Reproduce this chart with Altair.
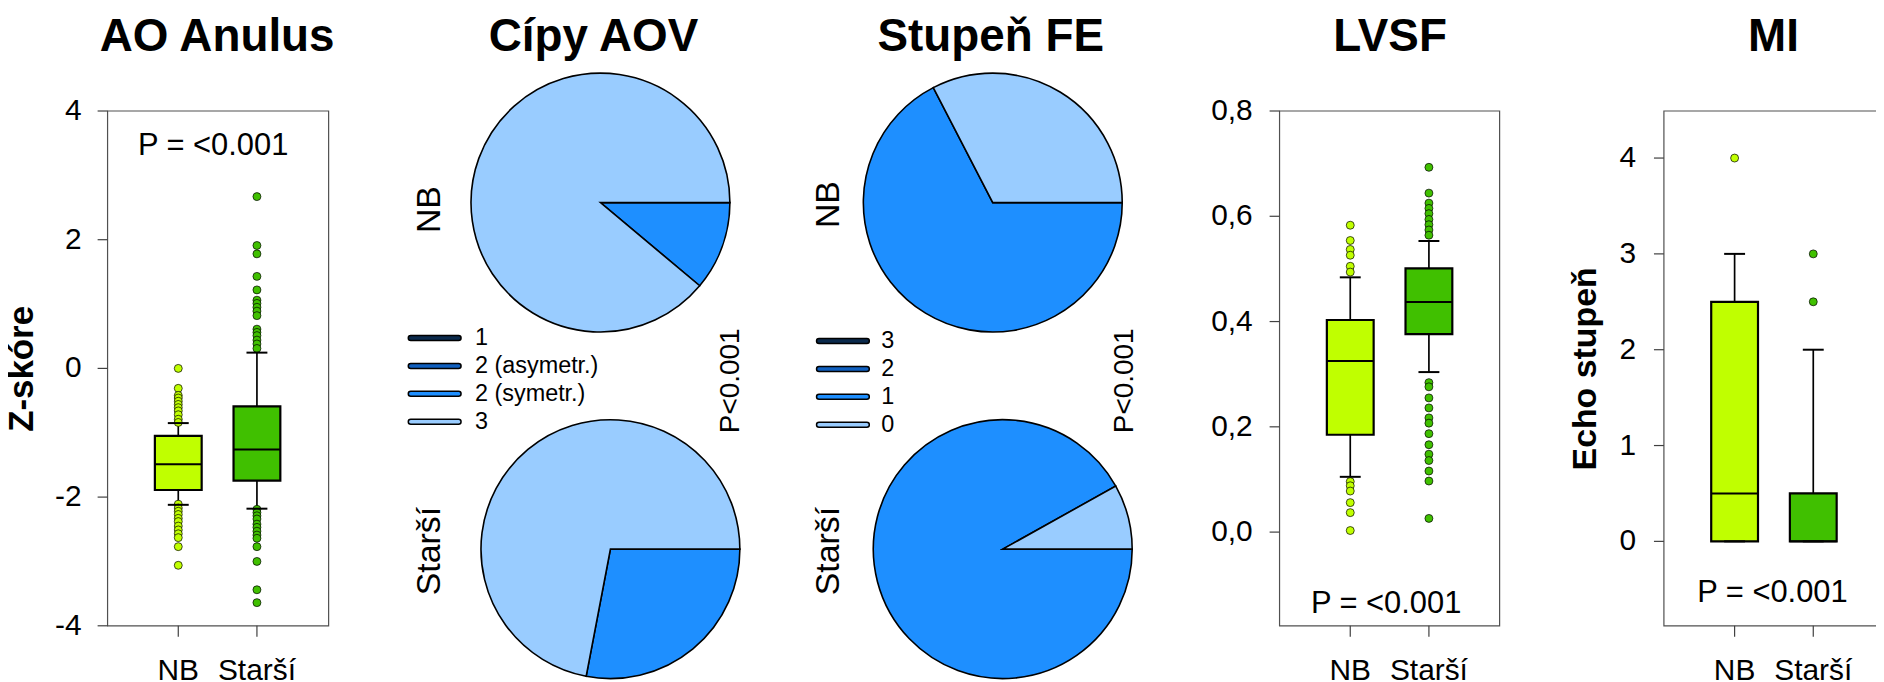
import math
import altair as alt
import pandas as pd

FONT = "Liberation Sans"

# ---------------- data ----------------
groups = ["NB", "Starší"]
box_colors = ["#C0FF00", "#40C000"]

# AO Anulus (Z-skóre)
ao_q1 = [-1.89, -1.745]
ao_med = [-1.49, -1.26]
ao_q3 = [-1.05, -0.59]
ao_lo = [-2.12, -2.18]
ao_hi = [-0.85, 0.245]
ao_out_nb = [0.0, -0.31, -0.42, -0.46, -0.51, -0.56, -0.61, -0.66, -0.72, -0.79, -0.84,
             -2.11, -2.17, -2.22, -2.27, -2.33, -2.38, -2.45, -2.51, -2.57, -2.63, -2.77, -3.06]
ao_out_st = [2.67, 1.91, 1.78, 1.43, 1.22, 1.06, 1.01, 0.95, 0.89, 0.82, 0.61, 0.56, 0.51, 0.44,
             0.38, 0.31, -2.19, -2.24, -2.29, -2.34, -2.42, -2.47, -2.53, -2.59, -2.64, -2.77,
             -3.0, -3.44, -3.64]
ao_ticks = [4, 2, 0, -2, -4]
ao_tick_labels = ["4", "2", "0", "-2", "-4"]

# LVSF
lv_q1 = [0.185, 0.376]
lv_med = [0.325, 0.437]
lv_q3 = [0.403, 0.501]
lv_lo = [0.105, 0.304]
lv_hi = [0.484, 0.553]
lv_out_nb = [0.583, 0.554, 0.537, 0.526, 0.505, 0.494, 0.096, 0.088, 0.078, 0.056, 0.037, 0.003]
lv_out_st = [0.693, 0.644, 0.625, 0.615, 0.605, 0.594, 0.584, 0.574, 0.564, 0.284, 0.276, 0.255,
             0.236, 0.217, 0.207, 0.187, 0.166, 0.148, 0.136, 0.116, 0.097, 0.026]
lv_ticks = [0.8, 0.6, 0.4, 0.2, 0.0]
lv_tick_labels = ["0,8", "0,6", "0,4", "0,2", "0,0"]

# MI (Echo stupeň)
mi_q1 = [0.0, 0.0]
mi_med = [0.5, 0.0]
mi_q3 = [2.5, 0.5]
mi_lo = [0.0, 0.0]
mi_hi = [3.0, 2.0]
mi_out_nb = [4.0]
mi_out_st = [3.0, 2.5]
mi_ticks = [4, 3, 2, 1, 0]
mi_tick_labels = ["4", "3", "2", "1", "0"]

# Pies (percent)
aov_cats = ["1", "2 (asymetr.)", "2 (symetr.)", "3"]
aov_nb = [0, 0, 11.1, 88.9]
aov_st = [0, 0, 28.0, 72.0]
fe_cats = ["3", "2", "1", "0"]
fe_nb = [0, 0, 67.4, 32.6]
fe_st = [0, 0, 91.9, 8.1]
pie_colors = ["#0B2A4C", "#1060C0", "#1E8FFF", "#99CCFF"]

ONE = pd.DataFrame({"a": [0]})
TOP, BOTTOM = 102, 619


def txt(text, x, y, size, bold=False, angle=0, align="center", baseline="alphabetic"):
    kw = dict(fontSize=size, font=FONT, color="black", align=align, baseline=baseline)
    if bold:
        kw["fontWeight"] = "bold"
    if angle:
        kw["angle"] = angle
    return alt.Chart(ONE).mark_text(**kw).encode(
        x=alt.value(x), y=alt.value(y), text=alt.value(text))


def box_panel(q1, med, q3, lo, hi, out_nb, out_st, ticks, tick_labels, domain,
              fx0, fx1, centers, lab_x, ptext_xy):
    bw = 47
    step = centers[1] - centers[0]
    ys = alt.Scale(domain=domain, range=[BOTTOM, TOP], nice=False, zero=False)
    xs = alt.Scale(type="band", domain=groups,
                   range=[centers[0] - bw / 2, centers[1] + bw / 2],
                   paddingInner=1 - bw / step, paddingOuter=0)
    cs = alt.Scale(domain=groups, range=box_colors)
    X = alt.X("g:N", scale=xs, axis=None)

    stats = pd.DataFrame({"g": groups, "q1": q1, "med": med, "q3": q3, "lo": lo, "hi": hi})
    outl = pd.DataFrame({"g": ["NB"] * len(out_nb) + ["Starší"] * len(out_st),
                         "v": out_nb + out_st})
    tk = pd.DataFrame({"v": ticks, "lab": tick_labels})
    gdf = pd.DataFrame({"g": groups})
    base = alt.Chart(stats)

    frame = alt.Chart(ONE).mark_rect(filled=False, color="#505050", strokeWidth=1.2).encode(
        x=alt.value(fx0), x2=alt.value(fx1), y=alt.value(TOP), y2=alt.value(BOTTOM))
    wlo = base.mark_rule(color="black", strokeWidth=1.7).encode(
        x=X, y=alt.Y("lo:Q", scale=ys, axis=None), y2="q1:Q")
    whi = base.mark_rule(color="black", strokeWidth=1.7).encode(
        x=X, y=alt.Y("q3:Q", scale=ys, axis=None), y2="hi:Q")
    box = base.mark_bar(stroke="black", strokeWidth=2.2, opacity=1).encode(
        x=X, y=alt.Y("q1:Q", scale=ys, axis=None), y2="q3:Q",
        color=alt.Color("g:N", scale=cs, legend=None))
    medl = base.mark_tick(color="black", size=bw, thickness=2, orient="horizontal", opacity=1).encode(
        x=X, y=alt.Y("med:Q", scale=ys, axis=None))
    pts = alt.Chart(outl).mark_circle(size=64, opacity=1, stroke="black", strokeWidth=0.7).encode(
        x=X, y=alt.Y("v:Q", scale=ys, axis=None),
        color=alt.Color("g:N", scale=cs, legend=None))
    cap_lo = base.mark_tick(color="black", size=21, thickness=2, orient="horizontal", opacity=1).encode(
        x=X, y=alt.Y("lo:Q", scale=ys, axis=None))
    cap_hi = base.mark_tick(color="black", size=21, thickness=2, orient="horizontal", opacity=1).encode(
        x=X, y=alt.Y("hi:Q", scale=ys, axis=None))
    ytk = alt.Chart(tk).mark_rule(color="#404040", strokeWidth=1.2).encode(
        x=alt.value(fx0 - 10), x2=alt.value(fx0), y=alt.Y("v:Q", scale=ys, axis=None))
    ylab = alt.Chart(tk).mark_text(align="right", baseline="middle", fontSize=30, font=FONT,
                                   color="black").encode(
        x=alt.value(lab_x), y=alt.Y("v:Q", scale=ys, axis=None), text="lab:N")
    xtk = alt.Chart(gdf).mark_rule(color="#404040", strokeWidth=1.2).encode(
        x=X, y=alt.value(BOTTOM), y2=alt.value(BOTTOM + 11))
    xlab = alt.Chart(gdf).mark_text(baseline="alphabetic", fontSize=30, font=FONT,
                                    color="black").encode(
        x=X, y=alt.value(673), text="g:N")
    ptxt = txt("P = <0.001", ptext_xy[0], ptext_xy[1], 31)
    return [frame, wlo, whi, box, medl, pts, cap_lo, cap_hi, ytk, ylab, xtk, xlab, ptxt]


def pie_panel(cats, nb, st, c_nb, c_st, sym_cx, lab_x, leg_y0, side_x, nb_y, st_y, p_x):
    cs = alt.Scale(domain=cats, range=pie_colors)
    th = alt.Scale(range=[math.pi / 2, math.pi / 2 + 2 * math.pi])

    def pie(vals, c):
        df = pd.DataFrame({"cat": cats, "share": vals, "idx": list(range(len(cats)))})
        df = df[df["share"] > 0]
        return alt.Chart(df).mark_arc(outerRadius=130, stroke="black", strokeWidth=1.6,
                                      opacity=1).encode(
            theta=alt.Theta("share:Q", stack=True, scale=th),
            color=alt.Color("cat:N", scale=cs, legend=None),
            order=alt.Order("idx:Q"),
            x=alt.value(c[0]), y=alt.value(c[1]))

    leg = pd.DataFrame({"cat": cats, "row": list(range(len(cats)))})
    ly = alt.Scale(domain=[0, 3], range=[leg_y0, leg_y0 + 3 * 28], nice=False, zero=False)
    sym = alt.Chart(leg).mark_tick(orient="horizontal", size=53, thickness=5, stroke="black",
                                   strokeWidth=1.5, cornerRadius=2.5, opacity=1).encode(
        x=alt.value(sym_cx), y=alt.Y("row:Q", scale=ly, axis=None),
        color=alt.Color("cat:N", scale=cs, legend=None))
    lab = alt.Chart(leg).mark_text(align="left", baseline="middle", fontSize=23.5, font=FONT,
                                   color="black").encode(
        x=alt.value(lab_x), y=alt.Y("row:Q", scale=ly, axis=None), text="cat:N")
    t_nb = txt("NB", side_x, nb_y, 34, angle=270, baseline="alphabetic")
    t_st = txt("Starší", side_x, st_y, 34, angle=270, baseline="alphabetic")
    t_p = txt("P<0.001", p_x, 373, 28, angle=270)
    return [pie(nb, c_nb), pie(st, c_st), sym, lab, t_nb, t_st, t_p]


p1 = alt.layer(*box_panel(ao_q1, ao_med, ao_q3, ao_lo, ao_hi, ao_out_nb, ao_out_st,
                          ao_ticks, ao_tick_labels, [-4, 4], 100, 322, [171, 250], 74,
                          (206, 146)),
               txt("AO Anulus", 210, 42, 46, bold=True),
               txt("Z-skóre", 25, 361, 35, bold=True, angle=270))

p2 = alt.layer(*pie_panel(aov_cats, aov_nb, aov_st, (595, 194), (605, 542), 428.5, 469, 330,
                          434, 201, 544, 734),
               txt("Cípy AOV", 588, 42, 46, bold=True))

p3 = alt.layer(*pie_panel(fe_cats, fe_nb, fe_st, (989, 194), (999, 542), 838.5, 877, 333,
                          835, 196, 544, 1130),
               txt("Stupeň FE", 987, 42, 46, bold=True))

p4 = alt.layer(*box_panel(lv_q1, lv_med, lv_q3, lv_lo, lv_hi, lv_out_nb, lv_out_st,
                          lv_ticks, lv_tick_labels, [-0.178, 0.8], 1277, 1498, [1348, 1427], 1250,
                          (1384, 606)),
               txt("LVSF", 1388, 42, 46, bold=True))

p5 = alt.layer(*box_panel(mi_q1, mi_med, mi_q3, mi_lo, mi_hi, mi_out_nb, mi_out_st,
                          mi_ticks, mi_tick_labels, [-0.881, 4.491], 1663, 1884, [1734, 1813], 1635,
                          (1772, 595)),
               txt("MI", 1773, 42, 46, bold=True),
               txt("Echo stupeň", 1595, 361, 34, bold=True, angle=270))

chart = alt.layer(p1, p2, p3, p4, p5).resolve_scale(
    x="independent", y="independent", color="independent", theta="independent"
).properties(
    width=1876, height=674, autosize="none", padding=0, background="white"
).configure(font=FONT).configure_view(stroke=None)

chart.save("out.html", embed_options={"renderer": "svg", "actions": False})
